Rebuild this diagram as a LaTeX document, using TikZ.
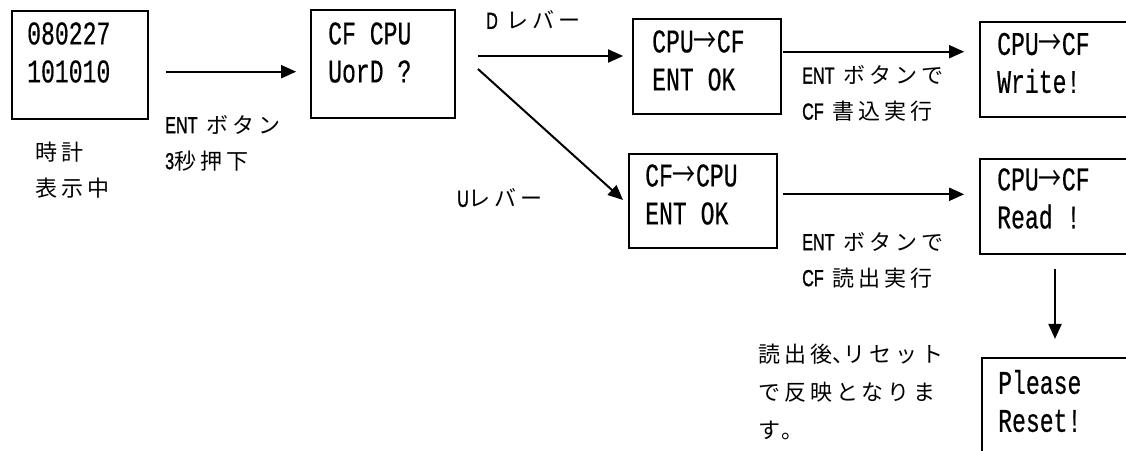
\documentclass[tikz,border=0pt]{standalone}
\usepackage{fontspec}
\usepackage{graphicx}
\usetikzlibrary{arrows.meta}
\newfontfamily\jpf[LetterSpace=18]{Noto Sans CJK JP}
\newfontfamily\arrf{Noto Sans CJK JP}
\newfontfamily\laf[Scale=1.05,FakeBold=1.5]{Liberation Sans}
\newfontfamily\monof[FakeBold=0.6]{Liberation Mono}
\newcommand\latn[1]{\scalebox{0.7}[1]{\laf #1}}
\newcommand\lcd[1]{\scalebox{0.7}[1]{#1}}
\newcommand\rarr{{\arrf →}}
\newcommand\halfcomma{{\addfontfeature{RawFeature=+halt}、}}
\tikzset{
  box/.style={draw, line width=1.8pt, inner sep=0pt, rectangle},
  lcdtext/.style={anchor=west, inner sep=0pt, align=left, font=\monof\fontsize{33}{38}\selectfont},
  lbl/.style={anchor=west, inner sep=0pt, align=left, font=\jpf\fontsize{22}{36}\selectfont},
  arr/.style={line width=2pt, -{Triangle[length=15pt,width=13pt]}}
}
\begin{document}
\begin{tikzpicture}[x=1pt,y=-1pt]
\useasboundingbox (0,0) rectangle (1126,450);
\fill[white] (0,0) rectangle (1126,450);
\clip (0,0) rectangle (1126,450);
% boxes
\node[box, minimum width=136pt, minimum height=108.3pt] (b1) at (80,64.9) {};
\node[box, minimum width=144.3pt, minimum height=108pt] (b2) at (382.9,64) {};
\node[box, minimum width=148pt, minimum height=95pt] (b3) at (707,66.5) {};
\node[box, minimum width=156pt, minimum height=95pt] (b4) at (1058,69.2) {};
\node[box, minimum width=147.5pt, minimum height=94pt] (b5) at (703,201) {};
\node[box, minimum width=156pt, minimum height=94.7pt] (b6) at (1058,206.7) {};
\node[box, minimum width=154.3pt, minimum height=111.7pt] (b7) at (1058.8,414) {};
% box texts
\node[lcdtext] (t1) at (27,52.5) {\lcd{080227}\\\lcd{101010}};
\node[lcdtext] (t2) at (328,52.5) {\lcd{CF CPU}\\\lcd{UorD ?}};
\node[lcdtext] (t3) at (652,60.5) {\lcd{CPU\rarr CF}\\\lcd{ENT OK}};
\node[lcdtext] (t4) at (997,63) {\lcd{CPU\rarr CF}\\\lcd{Write!}};
\node[lcdtext] (t5) at (645,194.5) {\lcd{CF\rarr CPU}\\\lcd{ENT OK}};
\node[lcdtext] (t6) at (997,198.5) {\lcd{CPU\rarr CF}\\\lcd{Read !}};
\node[lcdtext] (t7) at (998,401) {\lcd{Please}\\\lcd{Reset!}};
% labels
\node[lbl] (l1) at (165,143) {\latn{ENT} ボタン\\\latn{3}秒押下};
\node[lbl] (l2) at (35,170) {時計\\表示中};
\node[lbl] (l3) at (486,20) {\latn{D} レバー};
\node[lbl] (l4) at (457,198) {\latn{U}レバー};
\node[lbl] (l5) at (802,93.5) {\latn{ENT} ボタンで\\\latn{CF} 書込実行};
\node[lbl] (l6) at (802,260) {\latn{ENT} ボタンで\\\latn{CF} 読出実行};
\node[lbl, font=\jpf\fontsize{22}{38}\selectfont] (l7) at (758,392) {読出後\halfcomma リセット\\で反映となりま\\す。};
% arrows
\draw[arr] ([xshift=17pt,yshift=-6.8pt]b1.east) -- ([xshift=-13.7pt,yshift=-7.7pt]b2.west);
\draw[arr] ([xshift=22pt,yshift=8pt]b2.east) -- ([xshift=-9pt,yshift=10.5pt]b3.west);
\draw[arr] ([xshift=22pt,yshift=-5pt]b2.east) -- ([xshift=-5.3pt,yshift=1pt]b5.west);
\draw[arr] ([xshift=0.7pt,yshift=14.8pt]b3.east) -- ([xshift=-15pt,yshift=17.5pt]b4.west);
\draw[arr] ([xshift=5pt,yshift=6.7pt]b5.east) -- ([xshift=-15pt,yshift=12.4pt]b6.west);
\draw[arr] ([xshift=-3pt,yshift=-14pt]b6.south) -- ([xshift=-3.8pt,yshift=18.3pt]b7.north);
\end{tikzpicture}
\end{document}
